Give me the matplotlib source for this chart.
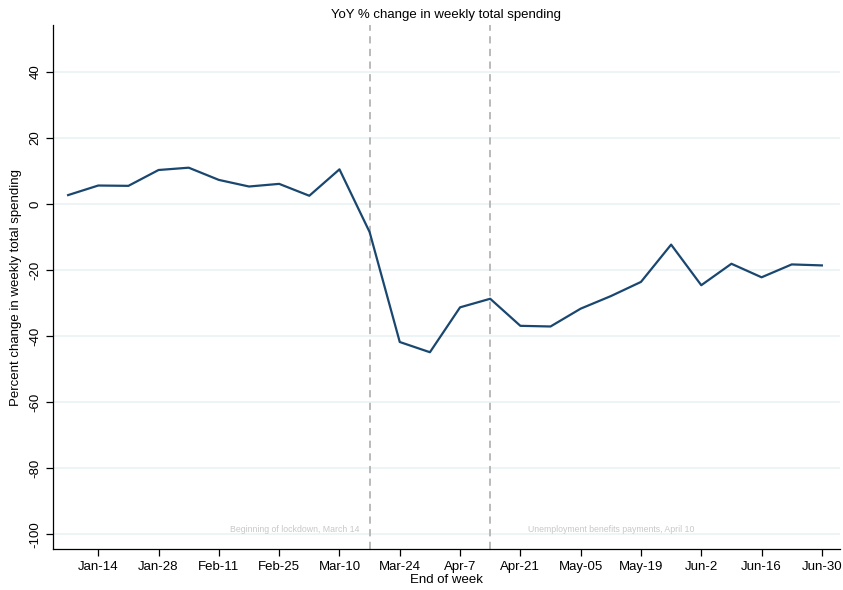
import numpy as np
import matplotlib
matplotlib.use("Agg")
import matplotlib.pyplot as plt

plt.rcParams['font.family'] = ['Liberation Sans', 'DejaVu Sans']

# weekly end dates (Jan 7 .. Jun 30)
weeks = ['Jan-7', 'Jan-14', 'Jan-21', 'Jan-28', 'Feb-4', 'Feb-11', 'Feb-18', 'Feb-25',
         'Mar-3', 'Mar-10', 'Mar-17', 'Mar-24', 'Mar-31', 'Apr-7', 'Apr-14', 'Apr-21',
         'Apr-28', 'May-05', 'May-12', 'May-19', 'May-26', 'Jun-2', 'Jun-9', 'Jun-16',
         'Jun-23', 'Jun-30']
yoy = [2.7, 5.6, 5.5, 10.3, 11.0, 7.3, 5.3, 6.1, 2.5, 10.5, -8.5, -41.8, -44.9,
       -31.3, -28.7, -36.9, -37.1, -31.7, -27.9, -23.6, -12.3, -24.6, -18.1,
       -22.2, -18.3, -18.6]

tick_idx = list(range(1, len(weeks), 2))
tick_lab = [weeks[i] for i in tick_idx]
yticks = [40, 20, 0, -20, -40, -60, -80, -100]

events = [10, 14]   # week index of the vertical lines
event_txt = ['Beginning of lockdown, March 14', 'Unemployment benefits payments, April 10']

fig = plt.figure(figsize=(8.43, 5.9), dpi=100)
ax = fig.add_axes([0.0629, 0.0695, 0.9335, 0.888])

x = np.arange(len(weeks))
for yt in yticks:
    ax.axhline(yt, color='#eaf2f3', lw=1.2, zorder=0)
for e in events:
    ax.axvline(e, color='#b4b4b4', lw=1.3, ls=(0, (4, 3)), zorder=1)
ax.plot(x, yoy, color='#1a476f', lw=1.6, zorder=3)

ax.text(9.65, -98.5, event_txt[0], fontsize=6.3, color='#c8c8c8', ha='right', va='center')
ax.text(15.25, -98.5, event_txt[1], fontsize=6.3, color='#c8c8c8', ha='left', va='center')

ax.set_xlim(-0.5, 25.6)
ax.set_ylim(-104.5, 54.2)
ax.set_xticks(tick_idx)
ax.set_xticklabels(tick_lab, fontsize=9.5)
ax.set_yticks(yticks)
ax.set_yticklabels([str(v) for v in yticks], fontsize=9.5, rotation=90, va='center')
ax.tick_params(direction='out', length=5, width=0.9, color='black')
for s in ['top', 'right']:
    ax.spines[s].set_visible(False)
for s in ['left', 'bottom']:
    ax.spines[s].set_linewidth(0.9)
ax.set_xlabel('End of week', fontsize=9.5, labelpad=1)
ax.set_ylabel('Percent change in weekly total spending', fontsize=9.5, labelpad=5)
ax.set_title('YoY % change in weekly total spending', fontsize=9.5, pad=5)

fig.savefig('out.png', dpi=100)
